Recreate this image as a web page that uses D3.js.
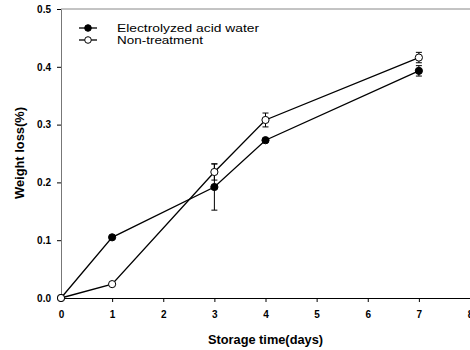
<!DOCTYPE html>
<html>
<head>
<meta charset="utf-8">
<script src="https://cdn.jsdelivr.net/npm/d3@7.9.0/dist/d3.min.js"></script>
<style>
  body { margin: 0; background: #fff; }
  svg { display: block; font-family: "Liberation Sans", Arial, sans-serif; }
</style>
</head>
<body>
<svg width="470" height="350"></svg>
<script>
// data
const days = [0, 1, 3, 4, 7];
const acidWater = [0, 0.105, 0.192, 0.273, 0.393];
const acidWaterErr = [0, 0.002, 0.04, 0.003, 0.009];
const nonTreatment = [0, 0.024, 0.218, 0.308, 0.416];
const nonTreatmentErr = [0, 0.002, 0.014, 0.012, 0.009];
const xTicks = [0, 1, 2, 3, 4, 5, 6, 7, 8];
const yTicks = [0, 0.1, 0.2, 0.3, 0.4, 0.5];

const svg = d3.select('svg');

const x = d3.scaleLinear().domain([0, 8]).range([61, 470]);
const y = d3.scaleLinear().domain([0, 0.5]).range([298, 9]);

// frame line on top (lighter in the scan)
svg.append('line')
    .attr('x1', x(0)).attr('x2', x(8))
    .attr('y1', y(0.5)).attr('y2', y(0.5))
    .attr('stroke', '#888').attr('stroke-width', 1);

// axes
const xAxis = svg.append('g')
    .attr('transform', `translate(0,${y(0)})`)
    .call(d3.axisBottom(x).tickValues(xTicks).tickFormat(d3.format('d')).tickSize(4).tickSizeOuter(0));
const yAxis = svg.append('g')
    .attr('transform', `translate(${x(0)},0)`)
    .call(d3.axisLeft(y).tickValues(yTicks).tickFormat(d3.format('.1f')).tickSize(4).tickSizeOuter(0));

xAxis.select('.domain').attr('stroke', '#000');
yAxis.select('.domain').attr('stroke', '#777');
[xAxis, yAxis].forEach((g) => {
    g.selectAll('text')
        .attr('font-size', 10)
        .attr('font-weight', 'bold')
        .attr('font-family', '"Liberation Sans", Arial, sans-serif')
        .attr('fill', '#000');
});
xAxis.selectAll('text').attr('dy', '1.25em');
yAxis.selectAll('text').attr('dx', '-0.3em');

// axis titles (the scan is stretched sideways, so stretch the text a bit)
svg.append('text')
    .attr('x', 208).attr('y', 344)
    .attr('font-size', 12).attr('font-weight', 'bold')
    .attr('textLength', 115).attr('lengthAdjust', 'spacingAndGlyphs')
    .text('Storage time(days)');
svg.append('text')
    .attr('transform', `translate(24,199) rotate(-90)`)
    .attr('font-size', 12).attr('font-weight', 'bold')
    .attr('textLength', 92).attr('lengthAdjust', 'spacingAndGlyphs')
    .text('Weight loss(%)');

const line = d3.line()
    .x((d) => x(d[0]))
    .y((d) => y(d[1]));

function drawSeries(values, errs, filled) {
    const pts = days.map((d, i) => [d, values[i], errs[i]]);
    svg.append('path')
        .datum(pts)
        .attr('d', line)
        .attr('fill', 'none')
        .attr('stroke', '#000')
        .attr('stroke-width', 1.3);

    const eb = svg.append('g').attr('stroke', '#000').attr('stroke-width', 1);
    pts.filter((p) => p[2] > 0.004).forEach((p) => {
        eb.append('line')
            .attr('x1', x(p[0])).attr('x2', x(p[0]))
            .attr('y1', y(p[1] - p[2])).attr('y2', y(p[1] + p[2]));
        [p[1] - p[2], p[1] + p[2]].forEach((v) => {
            eb.append('line')
                .attr('x1', x(p[0]) - 3).attr('x2', x(p[0]) + 3)
                .attr('y1', y(v)).attr('y2', y(v));
        });
    });

    svg.append('g').selectAll('circle')
        .data(pts)
        .join('circle')
        .attr('cx', (d) => x(d[0]))
        .attr('cy', (d) => y(d[1]))
        .attr('r', 3.6)
        .attr('fill', filled ? '#000' : '#fff')
        .attr('stroke', '#000')
        .attr('stroke-width', 1);
}

drawSeries(acidWater, acidWaterErr, true);
drawSeries(nonTreatment, nonTreatmentErr, false);

// legend
const legendItems = [
    { label: 'Electrolyzed acid water', filled: true, width: 142 },
    { label: 'Non-treatment', filled: false, width: 86 }
];
const legend = svg.append('g');
legendItems.forEach((item, i) => {
    const ly = 28 + i * 12;
    legend.append('line')
        .attr('x1', 79).attr('x2', 97)
        .attr('y1', ly).attr('y2', ly)
        .attr('stroke', '#000').attr('stroke-width', 1.3);
    legend.append('circle')
        .attr('cx', 88).attr('cy', ly).attr('r', 3.3)
        .attr('fill', item.filled ? '#000' : '#fff')
        .attr('stroke', '#000');
    legend.append('text')
        .attr('x', 117).attr('y', ly + 4)
        .attr('font-size', 11)
        .attr('textLength', item.width).attr('lengthAdjust', 'spacingAndGlyphs')
        .text(item.label);
});
</script>
</body>
</html>
